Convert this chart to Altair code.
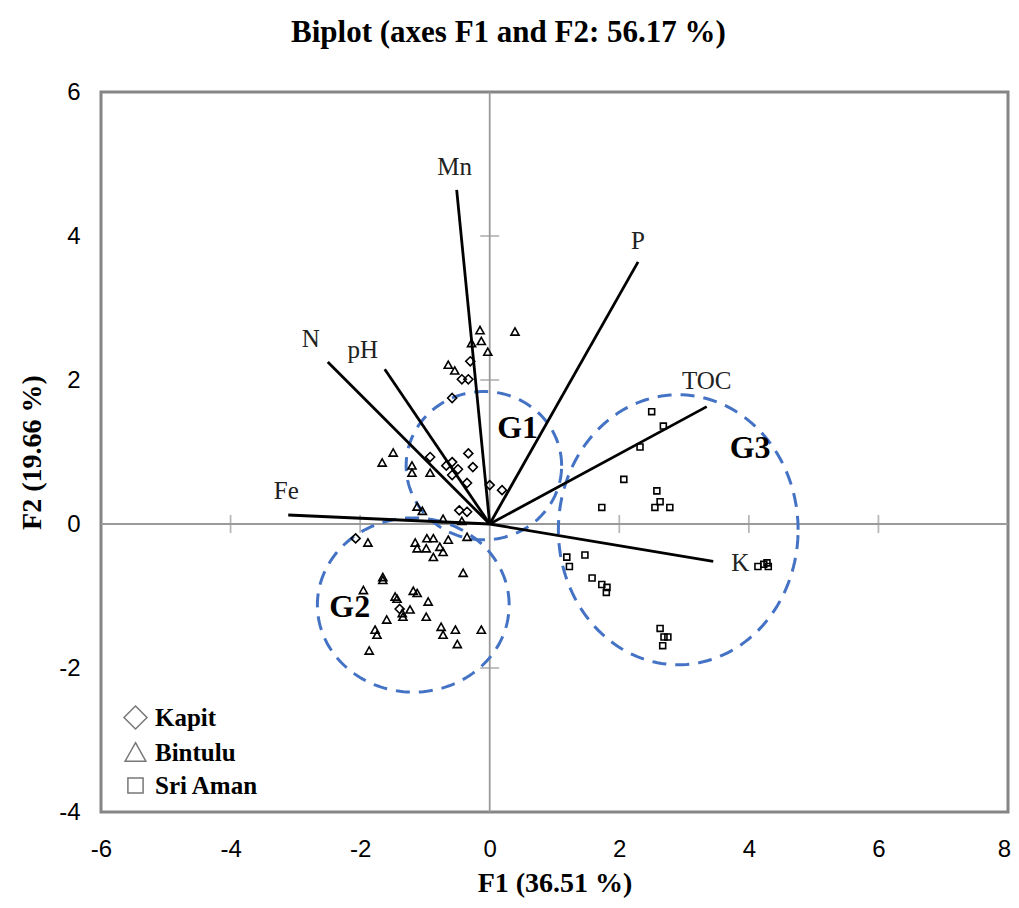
import altair as alt
import pandas as pd

# ---------------- data ----------------
kapit_f1 = [-0.30, -0.43, -0.33, -0.58, -0.92, -0.33, -0.67, -0.58, -0.49, -0.26,
            -0.58, -0.35, 0.00, 0.19, -0.47, -0.35, -2.07, -1.39]
kapit_f2 = [2.26, 2.01, 2.01, 1.75, 0.93, 0.98, 0.81, 0.86, 0.76, 0.79,
            0.68, 0.57, 0.54, 0.47, 0.19, 0.17, -0.20, -1.18]

bintulu_f1 = [-0.15, 0.39, -0.13, -0.28, -0.03, -0.64, -0.54, -1.49, -1.66, -1.20,
              -1.20, -0.92, -1.12, -1.04, -0.72, -0.43,
              -1.88, -1.15, -0.97, -0.87, -1.12, -0.98, -0.77, -0.64, -0.72, -0.87,
              -0.35, -0.41, -1.65, -1.65, -1.95, -1.18, -1.12, -0.95, -1.46, -1.43,
              -1.23, -1.35, -1.34, -1.59, -0.98, -1.77, -1.74, -0.75, -0.72, -0.53,
              -0.13, -0.50, -1.86]
bintulu_f2 = [2.69, 2.67, 2.54, 2.51, 2.39, 2.21, 2.13, 0.99, 0.85, 0.81,
              0.71, 0.71, 0.24, 0.18, 0.07, 0.04,
              -0.26, -0.26, -0.20, -0.20, -0.34, -0.34, -0.32, -0.22, -0.39, -0.46,
              -0.18, -0.68, -0.74, -0.78, -0.92, -0.93, -0.96, -1.08, -1.01, -1.04,
              -1.19, -1.24, -1.29, -1.33, -1.29, -1.47, -1.54, -1.43, -1.54, -1.47,
              -1.47, -1.67, -1.76]

sriaman_f1 = [2.50, 2.68, 2.32, 2.07, 2.58, 1.73, 2.55, 2.63, 2.78, 1.19,
              1.23, 1.47, 1.58, 1.73, 1.81, 1.80, 4.14, 4.23, 4.30, 4.28,
              2.63, 2.69, 2.75, 2.67]
sriaman_f2 = [1.56, 1.36, 1.07, 0.62, 0.46, 0.23, 0.23, 0.31, 0.23, -0.46,
              -0.59, -0.43, -0.75, -0.84, -0.88, -0.95, -0.59, -0.56, -0.59, -0.54,
              -1.45, -1.57, -1.57, -1.69]

sites = ["Kapit", "Bintulu", "Sri Aman"]

variables = ["Mn", "P", "TOC", "K", "Fe", "N", "pH"]
var_f1 = [-0.51, 2.29, 3.35, 3.45, -3.11, -2.50, -1.62]
var_f2 = [4.64, 3.64, 1.63, -0.52, 0.125, 2.25, 2.15]

groups = ["G1", "G2", "G3"]
group_cx = [-0.09, -1.18, 2.91]
group_cy = [0.81, -1.125, -0.08]
group_rx = [1.20, 1.48, 1.85]
group_ry = [1.03, 1.21, 1.875]
group_label_f1 = [0.43, -2.16, 4.02]
group_label_f2 = [1.33, -1.15, 1.06]

x_tick_values = [-6, -4, -2, 0, 2, 4, 6, 8]
y_tick_values = [-4, -2, 0, 2, 4, 6]
axis_ticks_f1 = [-4, -2, 2, 4, 6]
axis_ticks_f2 = [-2, 2, 4]

# ---------------- styling (not data) ----------------
label_offsets = {"Mn": (-2, -23), "P": (0, -21), "TOC": (0, -26), "K": (27, 2),
                 "Fe": (-2, -24), "N": (-17, -23), "pH": (-22, -19)}
SERIF = "Liberation Serif"
SANS = "Liberation Sans"
GRAY = "#9a9a9a"
BLUE = "#4472C4"
SHAPES = ["M0,-1L1,0L0,1L-1,0Z",                 # diamond
          "M0,-0.85L0.9,0.75L-0.9,0.75Z",        # triangle
          "M-0.66,-0.66L0.66,-0.66L0.66,0.66L-0.66,0.66Z"]  # square

pts = pd.DataFrame({
    "F1": kapit_f1 + bintulu_f1 + sriaman_f1,
    "F2": kapit_f2 + bintulu_f2 + sriaman_f2,
    "Site": ["Kapit"] * len(kapit_f1) + ["Bintulu"] * len(bintulu_f1) + ["Sri Aman"] * len(sriaman_f1),
})
vec = pd.DataFrame({"var": variables, "F1": var_f1, "F2": var_f2})
glab = pd.DataFrame({"g": groups, "F1": group_label_f1, "F2": group_label_f2})

xs = alt.Scale(domain=[-6, 8], nice=False, zero=False)
ys = alt.Scale(domain=[-4, 6], nice=False, zero=False)

X = alt.X("F1:Q", scale=xs,
          axis=alt.Axis(values=x_tick_values, title="F1 (36.51 %)", labelExpr="datum.value + ''",
                        labelOffset={"condition": {"test": "datum.value == 8", "value": -4}, "value": 0}))
Y = alt.Y("F2:Q", scale=ys,
          axis=alt.Axis(values=y_tick_values, title="F2 (19.66 %)", labelExpr="datum.value + ''"))

# zero lines
vline = alt.Chart(pd.DataFrame({"F1": [0]})).mark_rule(color=GRAY, strokeWidth=1.8).encode(x=alt.X("F1:Q", scale=xs))
hline = alt.Chart(pd.DataFrame({"F2": [0]})).mark_rule(color=GRAY, strokeWidth=1.8).encode(y=alt.Y("F2:Q", scale=ys))
xticks = alt.Chart(pd.DataFrame({"F1": axis_ticks_f1, "F2": [0] * len(axis_ticks_f1)})).mark_tick(
    orient="vertical", color=GRAY, size=18, thickness=1.8).encode(x=alt.X("F1:Q", scale=xs), y=alt.Y("F2:Q", scale=ys))
yticks = alt.Chart(pd.DataFrame({"F2": axis_ticks_f2, "F1": [0] * len(axis_ticks_f2)})).mark_tick(
    orient="horizontal", color=GRAY, size=19, thickness=1.8).encode(x=alt.X("F1:Q", scale=xs), y=alt.Y("F2:Q", scale=ys))

# ellipses
ellipses = []
for g, cx, cy, rx, ry in zip(groups, group_cx, group_cy, group_rx, group_ry):
    e = alt.Chart(alt.sequence(0, 362, 2, as_="deg")).transform_calculate(
        F1=f"{cx} + {rx} * cos(datum.deg * PI / 180)",
        F2=f"{cy} + {ry} * sin(datum.deg * PI / 180)",
    ).mark_line(color=BLUE, strokeWidth=3, strokeDash=[14, 9]).encode(
        x=alt.X("F1:Q", scale=xs), y=alt.Y("F2:Q", scale=ys), order="deg:Q")
    ellipses.append(e)

# vectors
vectors = alt.Chart(vec).transform_calculate(o1="0", o2="0").mark_rule(
    color="black", strokeWidth=2.8).encode(
    x=alt.X("o1:Q", scale=xs), y=alt.Y("o2:Q", scale=ys), x2="F1:Q", y2="F2:Q")

vec_labels = []
for v in variables:
    dx, dy = label_offsets[v]
    vec_labels.append(
        alt.Chart(vec).transform_filter(alt.datum.var == v).mark_text(
            font=SERIF, fontSize=25, color="#222", dx=dx, dy=dy, align="center", baseline="middle"
        ).encode(x=alt.X("F1:Q", scale=xs), y=alt.Y("F2:Q", scale=ys), text="var:N"))

group_labels = alt.Chart(glab).mark_text(
    font=SERIF, fontSize=32, fontWeight="bold", color="black", align="center", baseline="middle"
).encode(x=alt.X("F1:Q", scale=xs), y=alt.Y("F2:Q", scale=ys), text="g:N")

points = alt.Chart(pts).mark_point(filled=False, color="black", strokeWidth=1.6, opacity=1, size=81).encode(
    x=X, y=Y,
    shape=alt.Shape("Site:N",
                    scale=alt.Scale(domain=sites, range=SHAPES),
                    legend=alt.Legend(title=None, orient="none", legendX=22, legendY=613,
                                      symbolSize=529, symbolStrokeColor="#777", symbolStrokeWidth=1.5,
                                      symbolFillColor="white", symbolType="circle",
                                      labelFont=SERIF, labelFontSize=25, labelFontWeight="bold",
                                      labelColor="black", labelOffset=7, rowPadding=7)),
)

chart = alt.layer(
    vline, hline, xticks, yticks, *ellipses, vectors, *vec_labels, group_labels, points
).properties(
    width=907, height=720,
    title=alt.Title("Biplot (axes F1 and F2: 56.17 %)", font=SERIF, fontSize=31, fontWeight="bold",
                    color="black", anchor="middle", dx=-46, offset=31),
    autosize=alt.AutoSizeParams(type="none"),
    padding={"left": 93, "top": 84, "right": 3, "bottom": 88},
).configure_view(
    stroke="#858585", strokeWidth=3
).configure_axis(
    grid=False, domain=False, ticks=False, labelFlush=False, labelOverlap=False,
    labelFont=SANS, labelFontSize=24, labelColor="black",
    titleFont=SERIF, titleFontSize=28, titleFontWeight="bold", titleColor="black",
).configure_axisX(labelPadding=25, titlePadding=8).configure_axisY(labelPadding=21, titlePadding=12)

chart.save("out.html", embed_options={"renderer": "svg", "actions": False})
